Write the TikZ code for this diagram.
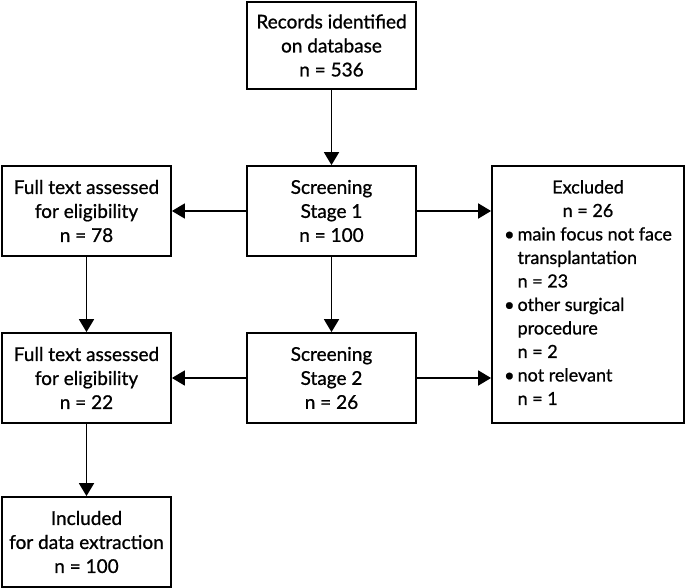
\documentclass[tikz,border=0pt]{standalone}
\usepackage{fontspec}
\setmainfont{Lato}[FakeBold=0.9]
\newfontfamily\labelfont{Lato}[FakeBold=0.9]
\usetikzlibrary{arrows.meta,positioning}
\tikzset{
  box/.style={draw, line width=1.8pt, align=center, inner sep=0pt,
    font=\labelfont\fontsize{19}{24}\selectfont},
  arr/.style={line width=1.8pt, -{Triangle[length=13pt,width=15pt]}}
}
\begin{document}
\begin{tikzpicture}[x=1pt,y=-1pt]
\useasboundingbox (0,0) rectangle (685,588);
\node[box, minimum width=169pt, minimum height=87pt] (rec) at (331.5,45.5) {Records identified\\on database\\n = 536};
\node[box, minimum width=169pt, minimum height=90pt] (s1) at (331.5,211) {Screening\\Stage 1\\n = 100};
\node[box, minimum width=169pt, minimum height=90pt] (s2) at (331.5,378) {Screening\\Stage 2\\n = 26};
\node[box, minimum width=169pt, minimum height=90pt] (l1) at (86.5,211) {Full text assessed\\for eligibility\\n = 78};
\node[box, minimum width=169pt, minimum height=90pt] (l2) at (86.5,378) {Full text assessed\\for eligibility\\n = 22};
\node[box, minimum width=169pt, minimum height=90pt] (l3) at (86.5,542) {Included\\for data extraction\\n = 100};
\node[box, minimum width=192pt, minimum height=257pt, font=\labelfont\fontsize{18}{23.5}\selectfont] (excl) at (588,294.5) {%
\renewcommand{\arraystretch}{1}%
\begin{tabular}{@{}l@{\hspace{3pt}}l@{}}
\multicolumn{2}{c}{Excluded}\\
\multicolumn{2}{c}{n = 26}\\
\textbullet & main focus not face\\
 & transplantation\\
 & n = 23\\
\textbullet & other surgical\\
 & procedure\\
 & n = 2\\
\textbullet & not relevant\\
 & n = 1
\end{tabular}};
\draw[arr] (rec) -- (s1);
\draw[arr] (s1) -- (s2);
\draw[arr] (s1.west) -- (s1.west -| l1.east);
\draw[arr] (s1.east) -- (s1.east -| excl.west);
\draw[arr] (s2.west) -- (s2.west -| l2.east);
\draw[arr] (s2.east) -- (s2.east -| excl.west);
\draw[arr] (l1) -- (l2);
\draw[arr] (l2) -- (l3);
\end{tikzpicture}
\end{document}
